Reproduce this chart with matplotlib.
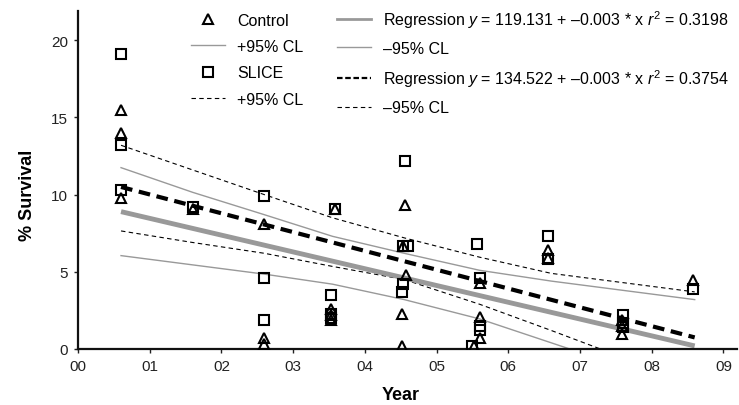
import numpy as np
import matplotlib
matplotlib.use('Agg')
import matplotlib.pyplot as plt
from matplotlib.lines import Line2D

plt.rcParams['font.family'] = ['Liberation Sans', 'DejaVu Sans']
plt.rcParams['mathtext.fontset'] = 'custom'
plt.rcParams['mathtext.rm'] = 'Liberation Sans'
plt.rcParams['mathtext.it'] = 'Liberation Sans:italic'

# survival points (x in years since 2000)
ctrl_year = [0.6, 0.6, 0.6, 1.6, 2.6, 2.6, 2.6, 3.58, 3.53, 3.53, 3.53,
             4.56, 4.58, 4.53, 4.52, 4.52, 5.6, 5.6, 5.6, 5.52,
             6.56, 6.56, 7.58, 7.58, 7.58, 8.58]
ctrl_surv = [15.5, 14.0, 9.8, 9.1, 8.1, 0.7, 0.3, 9.1, 2.6, 2.2, 1.9,
             9.3, 4.8, 6.7, 2.25, 0.2, 4.3, 2.1, 0.7, 0.2,
             6.4, 5.9, 1.9, 1.5, 1.0, 4.5]

slice_year = [0.6, 0.6, 0.6, 1.6, 2.6, 2.6, 2.6, 3.58, 3.53, 3.53, 3.53,
              4.56, 4.53, 4.6, 4.53, 4.52, 5.56, 5.6, 5.6, 5.6, 5.5,
              6.56, 6.56, 7.6, 7.6, 7.6, 8.58]
slice_surv = [19.1, 13.2, 10.3, 9.2, 9.9, 4.6, 1.9, 9.1, 3.5, 2.3, 2.0,
              12.2, 6.7, 6.7, 4.2, 3.7, 6.8, 4.6, 1.5, 1.2, 0.2,
              7.3, 5.8, 2.2, 1.7, 1.4, 3.9]

# regression lines
reg_year = [0.6, 8.6]
ctrl_fit = [8.9, 0.2]
slice_fit = [10.5, 0.75]

# confidence limits
cl_year = [0.6, 1.6, 2.6, 3.55, 4.55, 5.6, 6.6, 7.6, 8.6]
ctrl_upper = [11.75, 10.15, 8.7, 7.3, 6.2, 5.1, 4.4, 3.8, 3.2]
ctrl_lower = [6.05, 5.45, 4.85, 4.2, 3.2, 1.95, 0.4, -1.15, -2.7]
slice_upper = [13.2, 11.6, 10.0, 8.5, 7.2, 5.95, 4.9, 4.3, 3.7]
slice_lower = [7.65, 6.9, 6.2, 5.35, 4.5, 2.9, 1.2, -0.55, -2.3]

year_ticks = list(range(10))
year_labels = ['%02d' % y for y in year_ticks]
surv_ticks = [0, 5, 10, 15, 20]

grey = '#999999'

fig = plt.figure(figsize=(7.39, 4.06), dpi=100)
ax = fig.add_axes([78 / 739, 1 - 350 / 406, 659 / 739, 338 / 406])

ax.plot(cl_year, ctrl_upper, color=grey, lw=1.0, zorder=2)
ax.plot(cl_year, ctrl_lower, color=grey, lw=1.0, zorder=2)
ax.plot(cl_year, slice_upper, color='black', lw=0.8, dashes=(4, 3), zorder=2)
ax.plot(cl_year, slice_lower, color='black', lw=0.8, dashes=(4, 3), zorder=2)
ax.plot(reg_year, ctrl_fit, color=grey, lw=3.5, solid_capstyle='butt', zorder=2)
ax.plot(reg_year, slice_fit, color='black', lw=3.0, dashes=(2.8, 1.6), zorder=2)

ax.plot(ctrl_year, ctrl_surv, ls='none', marker='^', ms=7, mfc='none',
        mec='black', mew=1.5, zorder=3)
ax.plot(slice_year, slice_surv, ls='none', marker='s', ms=7, mfc='none',
        mec='black', mew=1.5, zorder=3)

ax.set_xlim(0, 9.19)
ax.set_ylim(0, 21.9)
ax.set_xticks(year_ticks)
ax.set_xticklabels(year_labels)
ax.set_yticks(surv_ticks)
ax.tick_params(labelsize=11, length=3, width=1, pad=4, colors='#222222')
for s in ['top', 'right']:
    ax.spines[s].set_visible(False)
for s in ['left', 'bottom']:
    ax.spines[s].set_linewidth(1.6)
    ax.spines[s].set_color('#111111')

ax.set_xlabel('Year', fontsize=13, fontweight='bold')
ax.set_ylabel('% Survival', fontsize=13, fontweight='bold')
ax.xaxis.set_label_coords(4.5 / 9.19, -0.11)
ax.yaxis.set_label_coords(-0.064, 10 / 21.9)

handles = [
    Line2D([], [], ls='none', marker='^', ms=7, mfc='none', mec='black', mew=1.5),
    Line2D([], [], color=grey, lw=1.0),
    Line2D([], [], ls='none', marker='s', ms=7, mfc='none', mec='black', mew=1.5),
    Line2D([], [], color='black', lw=0.8, dashes=(4, 3)),
    Line2D([], [], color=grey, lw=2.0),
    Line2D([], [], color=grey, lw=1.0),
    Line2D([], [], color='black', lw=1.6, dashes=(2.5, 1.2)),
    Line2D([], [], color='black', lw=0.8, dashes=(4, 3)),
]
labels = [
    'Control', '+95% CL', 'SLICE', '+95% CL',
    'Regression $y$ = 119.131 + \u20130.003 * x $r^2$ = 0.3198', '\u201395% CL',
    'Regression $y$ = 134.522 + \u20130.003 * x $r^2$ = 0.3754', '\u201395% CL',
]
fig.legend(handles, labels, ncol=2, loc='upper left', frameon=False,
           bbox_to_anchor=(191 / 739, 1 - 9 / 406), fontsize=11.5,
           handlelength=2.1, handletextpad=0.8, columnspacing=2.1,
           labelspacing=0.71, borderpad=0, borderaxespad=0)

plt.savefig('out.png', dpi=100)
